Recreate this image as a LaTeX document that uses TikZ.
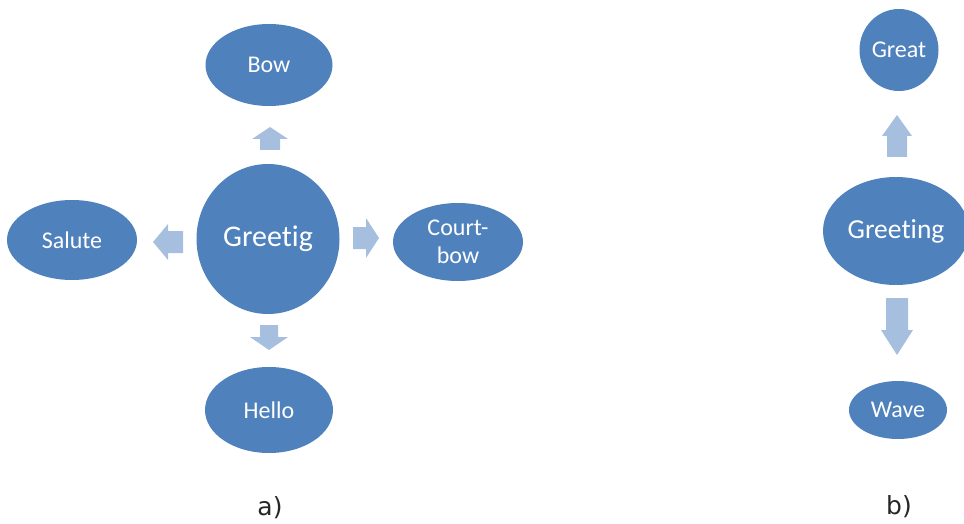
\documentclass[tikz,border=0pt]{standalone}
\usepackage{fontspec}
\setmainfont[Ligatures=NoCommon]{Carlito}
\newfontfamily\labfont{DejaVu Sans}
\usetikzlibrary{shapes.geometric}
\definecolor{nodeblue}{RGB}{79,129,189}
\definecolor{arrowblue}{RGB}{167,191,222}
\tikzset{
  bubble/.style={ellipse, fill=nodeblue, text=white, inner sep=0pt, align=center,
                 font=\fontsize{24}{28}\selectfont},
  blockarrow/.style={fill=arrowblue},
  sublabel/.style={font=\labfont\fontsize{25}{28}\selectfont, text=black!85}
}
\begin{document}
\begin{tikzpicture}[x=1pt,y=-1pt]
\useasboundingbox (0,0) rectangle (964,524);
\clip (0,0) rectangle (964,524);
% ---- a) ----
\node[bubble, minimum width=143pt, minimum height=150pt, font=\fontsize{30}{34}\selectfont] (greetig) at (268,239) {Greetig};
\node[bubble, minimum width=127pt, minimum height=82pt] (bow) at (269,65) {Bow};
\node[bubble, minimum width=130pt, minimum height=80pt] (salute) at (72,240) {Salute};
\node[bubble, minimum width=130pt, minimum height=78pt] (courtbow) at (458,242) {Court-\\bow};
\node[bubble, minimum width=128pt, minimum height=86pt] (hello) at (269,410) {Hello};
% block arrows
\fill[blockarrow] (270,127) -- (288,139) -- (280,139) -- (280,150) -- (260,150) -- (260,139) -- (252,139) -- cycle;
\fill[blockarrow] (153,242) -- (168,224) -- (168,231) -- (183,231) -- (183,253) -- (168,253) -- (168,260) -- cycle;
\fill[blockarrow] (379,238) -- (366,218) -- (366,227) -- (353,227) -- (353,249) -- (366,249) -- (366,258) -- cycle;
\fill[blockarrow] (269,350) -- (288,337) -- (278,337) -- (278,325) -- (260,325) -- (260,337) -- (250,337) -- cycle;
% ---- b) ----
\node[bubble, minimum width=146pt, minimum height=108pt, font=\fontsize{27.5}{31}\selectfont] (greeting) at (896,231) {Greeting};
\node[bubble, minimum width=79pt, minimum height=82pt] (great) at (899,50) {Great};
\node[bubble, minimum width=98pt, minimum height=58pt] (wave) at (898,410) {Wave};
\fill[blockarrow] (897,115) -- (912,136) -- (907,136) -- (907,157) -- (887,157) -- (887,136) -- (882,136) -- cycle;
\fill[blockarrow] (897,355) -- (913,330) -- (908,330) -- (908,298) -- (886,298) -- (886,330) -- (881,330) -- cycle;
% labels
\node[sublabel] (la) at (270,508) {a)};
\node[sublabel] (lb) at (899,507) {b)};
\end{tikzpicture}
\end{document}
